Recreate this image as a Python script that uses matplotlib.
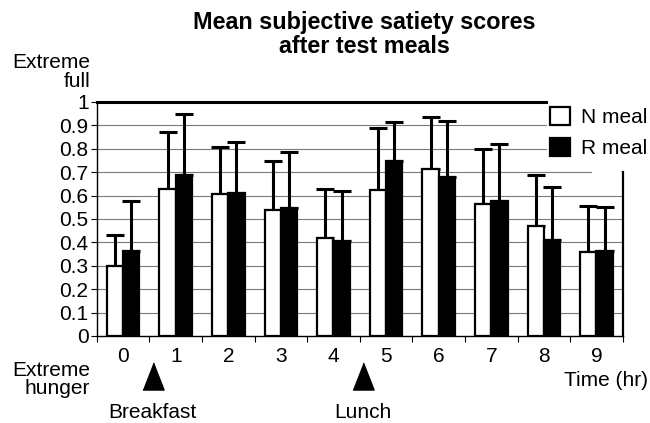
import matplotlib
matplotlib.use("Agg")
import matplotlib.pyplot as plt
import numpy as np

plt.rcParams['font.family'] = ['Liberation Sans', 'DejaVu Sans']

hours = [0, 1, 2, 3, 4, 5, 6, 7, 8, 9]
n_meal = [0.30, 0.63, 0.607, 0.54, 0.42, 0.625, 0.715, 0.563, 0.471, 0.358]
n_err = [0.13, 0.24, 0.20, 0.207, 0.207, 0.263, 0.222, 0.236, 0.217, 0.199]
r_meal = [0.362, 0.689, 0.612, 0.547, 0.408, 0.749, 0.678, 0.578, 0.409, 0.362]
r_err = [0.216, 0.258, 0.216, 0.241, 0.21, 0.167, 0.241, 0.242, 0.226, 0.189]
yticks = [0, 0.1, 0.2, 0.3, 0.4, 0.5, 0.6, 0.7, 0.8, 0.9, 1]
meal_times = [0.56, 4.56]
meal_names = ["Breakfast", "Lunch"]

fig = plt.figure(figsize=(6.5, 4.23), dpi=100)
ax = fig.add_axes([0.149, 0.2057, 0.809, 0.5532])

x = np.arange(len(hours))
w = 0.31
fs = 15

# grid lines
for yv in yticks[1:-1]:
    xmax = 1.0
    if yv >= 0.75:
        xmax = 0.855
    elif yv >= 0.65:
        xmax = 0.94
    ax.axhline(yv, xmin=0, xmax=xmax, color='#7a7a7a', lw=0.8, zorder=0)

ax.bar(x - w / 2, n_meal, w, color='white', edgecolor='black', lw=1.6, zorder=2,
       label='N meal')
ax.bar(x + w / 2, r_meal, w, color='black', edgecolor='black', lw=1.6, zorder=2,
       label='R meal')
ax.errorbar(x - w / 2, n_meal, yerr=[np.zeros(len(x)), n_err], fmt='none',
            ecolor='black', elinewidth=2.2, capsize=6.5, capthick=2.2, zorder=1)
ax.errorbar(x + w / 2, r_meal, yerr=[np.zeros(len(x)), r_err], fmt='none',
            ecolor='black', elinewidth=2.2, capsize=6.5, capthick=2.2, zorder=1)

ax.set_xlim(-0.5, 9.5)
ax.set_ylim(0, 1)
ax.set_yticks(yticks)
ax.set_yticklabels([f"{v:g}" for v in yticks], fontsize=fs)
ax.set_xticks(x)
ax.set_xticklabels([str(h) for h in hours], fontsize=fs)
ax.set_xticks(np.arange(-0.5, 10, 1), minor=True)
ax.tick_params(axis='x', which='major', length=0, pad=8)
ax.tick_params(axis='x', which='minor', length=4, width=0.8, direction='out')
ax.tick_params(axis='y', length=4, width=0.8, direction='out', pad=2)

for s in ['left', 'bottom']:
    ax.spines[s].set_linewidth(1.0)
ax.spines['top'].set_linewidth(2.2)
ax.spines['top'].set_bounds(-0.5, 8.05)
ax.spines['right'].set_linewidth(1.6)
ax.spines['right'].set_bounds(0, 0.70)

leg = ax.legend(loc='upper left', bbox_to_anchor=(0.862, 0.978), frameon=False,
                fontsize=fs, handlelength=0.96, handleheight=0.96, handletextpad=0.5,
                labelspacing=0.5, borderaxespad=0, borderpad=0)
for h in leg.legend_handles:
    h.set_linewidth(1.6)

fig.text(0.56, 0.919, "Mean subjective satiety scores\nafter test meals",
         ha='center', va='center', fontsize=16.8, fontweight='bold', linespacing=1.05)
fig.text(0.139, 0.830, "Extreme\nfull", ha='right', va='center', fontsize=fs,
         linespacing=0.95)
fig.text(0.139, 0.103, "Extreme\nhunger", ha='right', va='center', fontsize=fs,
         linespacing=0.95)
fig.text(0.997, 0.101, "Time (hr)", ha='right', va='center', fontsize=fs)

tri = [(-0.78, -1), (0.78, -1), (0, 1)]
for mt, name in zip(meal_times, meal_names):
    ax.plot([mt], [-0.173], marker=tri, markersize=19.5, color='black', lw=0,
            clip_on=False, zorder=5)
    ax.text(mt, -0.325, name, ha='center', va='center', fontsize=fs)

fig.savefig("out.png", dpi=100)
